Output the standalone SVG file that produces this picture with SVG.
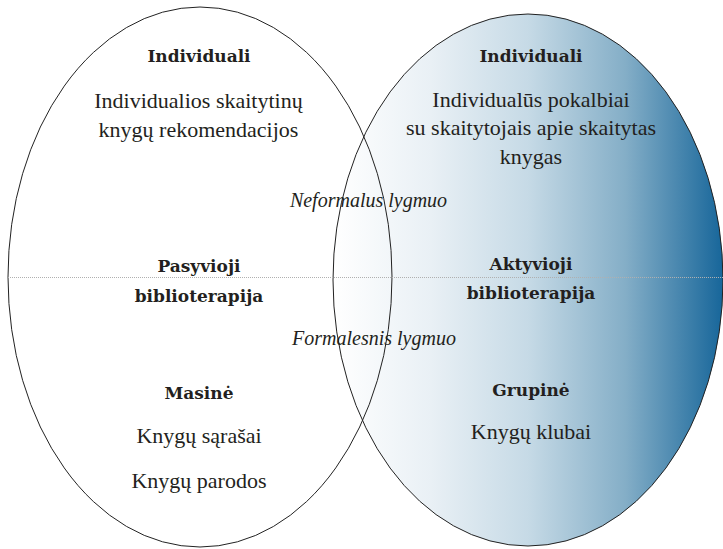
<svg xmlns="http://www.w3.org/2000/svg" width="723" height="549" viewBox="0 0 723 549">
<style>
.bold{font-family:"DejaVu Serif",serif;font-weight:bold;font-size:17px;fill:#231f20;text-anchor:middle}
.reg{font-family:"Liberation Serif",serif;font-size:22px;fill:#231f20;text-anchor:middle}
.ital{font-family:"Liberation Serif",serif;font-style:italic;font-size:20px;fill:#231f20;text-anchor:middle}
.outline{fill:none;stroke:#222;stroke-width:1}
</style>
<defs>
<linearGradient id="blue" x1="0" y1="0" x2="1" y2="0">
<stop offset="0" stop-color="#ffffff"/>
<stop offset="0.25" stop-color="#e9f0f5"/>
<stop offset="0.5" stop-color="#c6dae6"/>
<stop offset="0.75" stop-color="#84aec7"/>
<stop offset="1" stop-color="#17669a"/>
</linearGradient>
</defs>
<rect width="723" height="549" fill="#ffffff"/>
<g id="right-set">
<ellipse cx="528" cy="280" rx="195" ry="266" fill="url(#blue)" stroke="#222" stroke-width="1"/>
</g>
<g id="left-set">
<ellipse cx="200" cy="277" rx="192" ry="270" class="outline"/>
</g>
<g id="divider">
<line x1="8" y1="277.5" x2="723" y2="277.5" stroke="#b0b0b0" stroke-width="1" stroke-dasharray="1,1"/>
</g>
<g id="left-top">
<text class="bold" x="199" y="62">Individuali</text>
<text class="reg" x="198.5" y="108">Individualios skaitytinų</text>
<text class="reg" x="198.5" y="137">knygų rekomendacijos</text>
</g>
<g id="left-middle">
<text class="bold" x="199" y="272">Pasyvioji</text>
<text class="bold" x="199" y="302">biblioterapija</text>
</g>
<g id="left-bottom">
<text class="bold" x="199" y="399">Masinė</text>
<text class="reg" x="199" y="443">Knygų sąrašai</text>
<text class="reg" x="199" y="488">Knygų parodos</text>
</g>
<g id="right-top">
<text class="bold" x="531" y="62">Individuali</text>
<text class="reg" x="531" y="107">Individualūs pokalbiai</text>
<text class="reg" x="531" y="135">su skaitytojais apie skaitytas</text>
<text class="reg" x="531" y="164">knygas</text>
</g>
<g id="right-middle">
<text class="bold" x="531" y="270">Aktyvioji</text>
<text class="bold" x="531" y="299">biblioterapija</text>
</g>
<g id="right-bottom">
<text class="bold" x="531" y="396">Grupinė</text>
<text class="reg" x="531" y="439">Knygų klubai</text>
</g>
<g id="levels">
<text class="ital" x="368.5" y="207">Neformalus lygmuo</text>
<text class="ital" x="374" y="345">Formalesnis lygmuo</text>
</g>
</svg>
